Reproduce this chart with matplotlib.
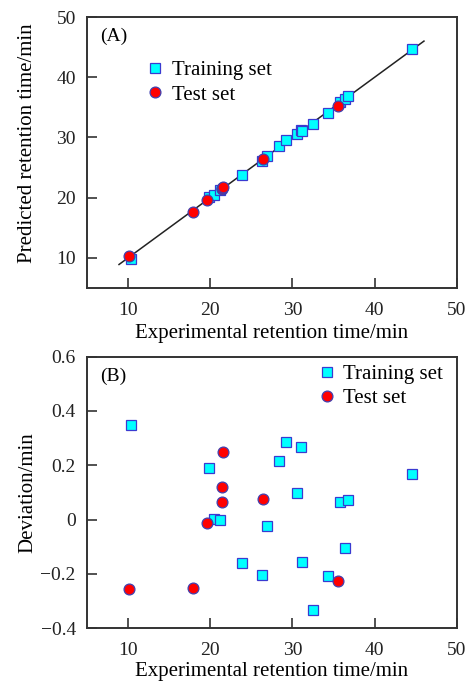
import numpy as np
import matplotlib
matplotlib.use("Agg")
import matplotlib.pyplot as plt

plt.rcParams["font.family"] = ["Liberation Serif", "DejaVu Serif"]
plt.rcParams["mathtext.fontset"] = "stix"


# Training set: experimental time, predicted time, deviation
train_exp = [10.4, 19.85, 20.42, 21.23, 23.9, 26.25, 26.86, 28.36, 29.25,
             30.55, 31.0, 31.16, 32.54, 34.32, 35.74, 36.43, 36.75, 44.58]
train_pred = [9.85, 20.04, 20.42, 21.23, 23.74, 26.05, 26.84, 28.58, 29.54,
              30.65, 31.27, 31.0, 32.21, 34.11, 35.81, 36.32, 36.82, 44.75]
train_dev = [0.347, 0.191, 0.003, -0.002, -0.160, -0.204, -0.025, 0.217, 0.287,
             0.099, 0.268, -0.156, -0.333, -0.210, 0.066, -0.106, 0.071, 0.166]

# Test set
test_exp = [10.1, 17.9, 19.6, 21.4, 21.47, 21.6, 26.4, 35.5]
test_pred = [10.28, 17.65, 19.59, 21.52, 21.53, 21.85, 26.48, 35.27]
test_dev = [-0.256, -0.252, -0.014, 0.118, 0.063, 0.250, 0.076, -0.227]

# fitted line y = x
fit_x = [8.9, 46.0]
fit_y = [8.9, 46.0]


fig = plt.figure(figsize=(4.7, 6.86), dpi=100)
ax_a = fig.add_axes([0.185, 0.5802, 0.787, 0.395])
ax_b = fig.add_axes([0.185, 0.0845, 0.787, 0.3955])

sq_style = dict(linestyle="none", marker="s", markersize=7.2,
                markerfacecolor="#00ffff", markeredgecolor="#3a3ad0",
                markeredgewidth=0.9)
ci_style = dict(linestyle="none", marker="o", markersize=7.8,
                markerfacecolor="#ff0000", markeredgecolor="#4040b0",
                markeredgewidth=0.9)


# Panel A
ax_a.plot(fit_x, fit_y, color="#222222", linewidth=1.1, zorder=1)
ax_a.plot(train_exp, train_pred, label="Training set", zorder=2, **sq_style)
ax_a.plot(test_exp, test_pred, label="Test set", zorder=3, **ci_style)
ax_a.set_xlim(5, 50)
ax_a.set_ylim(5, 50)
ax_a.set_xticks([10, 20, 30, 40, 50])
ax_a.set_yticks([10, 20, 30, 40, 50])
ax_a.set_xlabel("Experimental retention time/min", fontsize=15, labelpad=4)
ax_a.set_ylabel("Predicted retention time/min", fontsize=15)
ax_a.yaxis.set_label_coords(-0.135, 0.535)
ax_a.text(0.035, 0.96, "(A)", transform=ax_a.transAxes, fontsize=14,
          va="top", ha="left")
ax_a.legend(loc="upper left", bbox_to_anchor=(0.162, 0.84), frameon=False,
            fontsize=15, handlelength=0.8, handletextpad=0.4,
            labelspacing=0.25, borderpad=0, borderaxespad=0)


# Panel B
ax_b.plot(train_exp, train_dev, label="Training set", zorder=2, **sq_style)
ax_b.plot(test_exp, test_dev, label="Test set", zorder=3, **ci_style)
ax_b.set_xlim(5, 50)
ax_b.set_ylim(-0.4, 0.6)
ax_b.set_xticks([10, 20, 30, 40, 50])
ax_b.set_yticks([-0.4, -0.2, 0, 0.2, 0.4, 0.6])
ax_b.set_yticklabels(["\u22120.4", "\u22120.2", "0", "0.2", "0.4", "0.6"])
ax_b.set_xlabel("Experimental retention time/min", fontsize=15, labelpad=2)
ax_b.set_ylabel("Deviation/min", fontsize=15)
ax_b.yaxis.set_label_coords(-0.135, 0.5)
ax_b.text(0.035, 0.96, "(B)", transform=ax_b.transAxes, fontsize=14,
          va="top", ha="left")
ax_b.legend(loc="upper right", bbox_to_anchor=(0.963, 0.97), frameon=False,
            fontsize=15, handlelength=0.8, handletextpad=0.4,
            labelspacing=0.2, borderpad=0, borderaxespad=0)


for ax in (ax_a, ax_b):
    for sp in ax.spines.values():
        sp.set_linewidth(1.4)
        sp.set_color("#333333")
    ax.tick_params(direction="in", length=7, width=1.2, labelsize=14,
                   colors="#333333", labelcolor="#222222")
    ax.tick_params(axis="x", pad=10)
    ax.tick_params(axis="y", pad=8)


fig.savefig("out.png", dpi=100)
